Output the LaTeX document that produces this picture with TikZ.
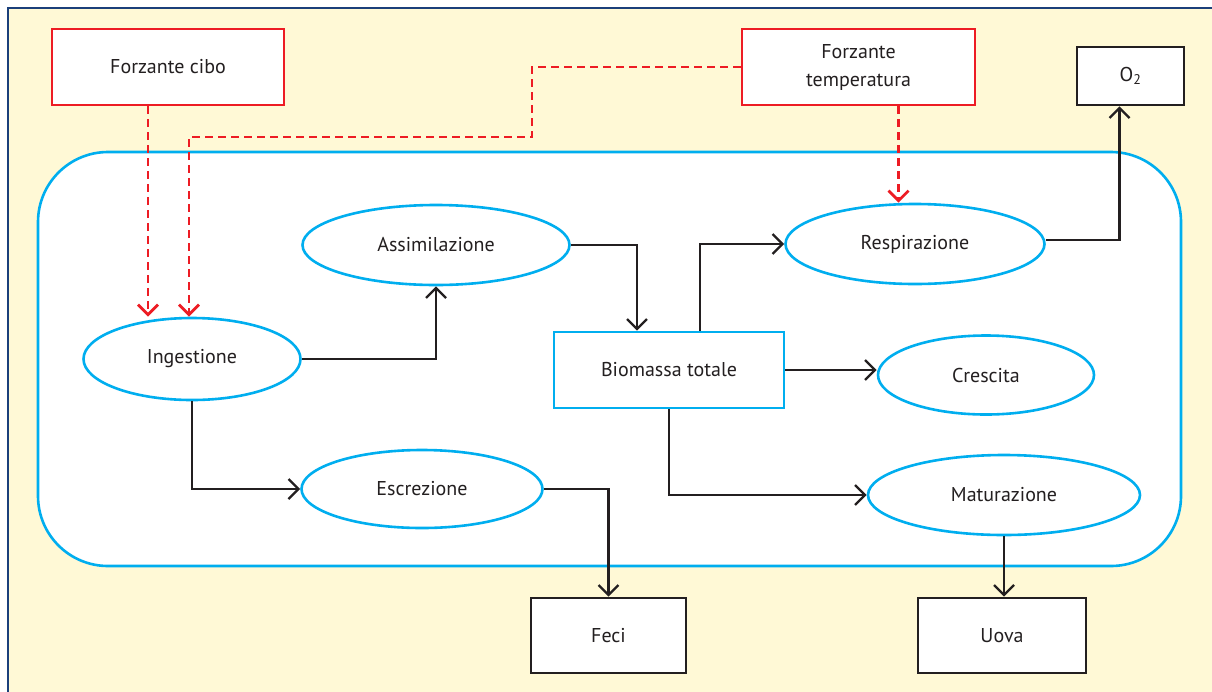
\documentclass[tikz,border=0pt]{standalone}
\usepackage{fontspec}
\setmainfont{PT Sans}
\usetikzlibrary{shapes.geometric,arrows.meta,calc}
\definecolor{cream}{HTML}{FFF9D6}
\definecolor{navy}{HTML}{1B3F7A}
\definecolor{cyanb}{HTML}{00AEEF}
\definecolor{redf}{HTML}{ED1C24}
\definecolor{ink}{HTML}{231F20}
\tikzset{
  lbl/.style={font=\fontsize{20}{28}\selectfont, text=ink, inner sep=0pt},
  redbox/.style={lbl, draw=redf, line width=2.6pt, fill=white, rectangle},
  blackbox/.style={lbl, draw=ink, line width=2.6pt, fill=white, rectangle},
  bluebox/.style={lbl, draw=cyanb, line width=2.6pt, fill=white, rectangle},
  ell/.style={lbl, draw=cyanb, line width=2.6pt, fill=white, ellipse},
  flow/.style={draw=ink, line width=2.4pt, -{Straight Barb[length=10pt,width=20pt]}},
  force/.style={draw=redf, line width=2.8pt, dash pattern=on 8pt off 5pt, -{Straight Barb[length=10pt,width=20pt]}},
}
\begin{document}
\begin{tikzpicture}[x=1pt,y=-1pt]
\useasboundingbox (0,0) rectangle (1212,691);
\clip (0,0) rectangle (1212,691);
\fill[white] (0,0) rectangle (1212,691);
\draw[navy, line width=2.8pt, fill=cream] (8,8) rectangle (1240,720);
\draw[cyanb, line width=2.6pt, fill=white, rounded corners=70pt] (38,152) rectangle (1181,566);

\node[redbox, minimum width=232pt, minimum height=76pt] (cibo) at (168,67) {Forzante cibo};
\node[redbox, minimum width=233pt, minimum height=76pt, align=center] (temp) at (858.5,67) {Forzante\\temperatura};
\node[blackbox, minimum width=107pt, minimum height=58pt] (o2) at (1130.5,76) {O\textsubscript{2}};

\node[ell, minimum width=217pt, minimum height=82pt] (ing) at (192,359) {Ingestione};
\node[ell, minimum width=267pt, minimum height=80pt] (assim) at (436,245) {Assimilazione};
\node[ell, minimum width=241pt, minimum height=78pt] (escr) at (422,489) {Escrezione};
\node[ell, minimum width=259pt, minimum height=80pt] (resp) at (915,244) {Respirazione};
\node[ell, minimum width=216pt, minimum height=79pt] (cresc) at (986,375) {Crescita};
\node[ell, minimum width=272pt, minimum height=80pt] (mat) at (1004,495) {Maturazione};
\node[bluebox, minimum width=230pt, minimum height=76pt] (bio) at (669,370) {Biomassa totale};
\node[blackbox, minimum width=155pt, minimum height=75pt] (feci) at (608.5,635.5) {Feci};
\node[blackbox, minimum width=168pt, minimum height=75pt] (uova) at (1002,635.5) {Uova};

% forcing (red dashed)
\draw[force] ([xshift=-20pt]cibo.south) -- ([xshift=-20pt]cibo.south |- ing.north);
\draw[force] (temp.west) -| (532,137) -| ($(ing.north)+(-3pt,0)$);
\draw[force] ([xshift=40pt]temp.south) -- ([xshift=40pt]temp.south |- resp.north);

% flows
\draw[flow] (ing.east) -| (assim.south);
\draw[flow] (ing.south) |- (escr.west);
\draw[flow] (assim.east) -| ([xshift=-32pt]bio.north);
\draw[flow] ([xshift=31pt]bio.north) |- (resp.west);
\draw[flow] (bio.east) -- (bio.east -| cresc.west);
\draw[flow] (bio.south) |- (mat.west);
\draw[flow] ([yshift=4pt]resp.east) -| ([xshift=-11pt]o2.south);
\draw[flow] (escr.east) -| (feci.north);
\draw[flow] (mat.south) -- (mat.south |- uova.north);
\end{tikzpicture}
\end{document}
